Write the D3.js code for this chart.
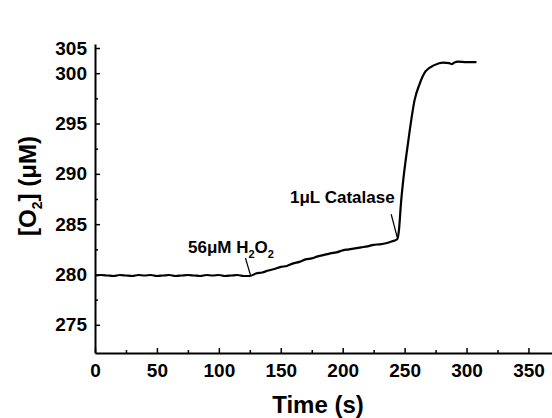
<!DOCTYPE html>
<html lang="en">
<head>
<meta charset="UTF-8">
<title>[O2] vs time</title>
<script src="https://cdn.jsdelivr.net/npm/d3@7/dist/d3.min.js"></script>
<style>
  * { margin: 0; padding: 0; box-sizing: border-box; }
  body { background: #fff; width: 552px; height: 418px; overflow: hidden; }
  svg { display: block; font-family: 'Liberation Sans', Arial, sans-serif; font-weight: bold; }
  .axis path, .axis line { stroke: #000; }
  .axis path { stroke-width: 2; }
  .axis line { stroke-width: 1.5; }
  .axis text { font-size: 19px; font-weight: bold; fill: #000; }
</style>
</head>
<body>
<div id="chart"></div>
<script>
// ─── Data ────────────────────────────────────────────────────────────────────

const times = [
  0, 5, 10, 15, 20, 25, 30, 35, 40, 45, 50, 55, 60, 65, 70, 75, 80, 85, 90, 95,
  100, 105, 110, 115, 120, 125, 130, 135, 140, 145, 150, 155, 160, 165, 170, 175,
  180, 185, 190, 195, 200, 205, 210, 215, 220, 225, 230, 235, 240, 244,
  245.5, 247, 249, 251, 254, 258, 262, 267, 274, 281, 286, 288, 290, 293, 300, 308
];
const o2 = [
  279.9, 279.95, 279.9, 279.85, 279.95, 279.9, 279.85, 279.95, 279.9, 279.95,
  279.85, 279.9, 279.95, 279.85, 279.9, 279.95, 279.9, 279.85, 279.95, 279.9,
  279.95, 279.85, 279.9, 279.95, 279.85, 279.85, 280.1, 280.2, 280.4, 280.55,
  280.75, 280.85, 281.1, 281.25, 281.5, 281.6, 281.8, 281.95, 282.1, 282.2,
  282.4, 282.5, 282.6, 282.7, 282.8, 282.95, 283.0, 283.1, 283.3, 283.5,
  284.5, 287.0, 289.5, 291.5, 294.2, 297.3, 298.9, 300.2, 300.8, 301.05,
  301.0, 300.9, 301.05, 301.15, 301.1, 301.1
];

const xTicks      = [0, 50, 100, 150, 200, 250, 300, 350];
const xMinorTicks = [25, 75, 125, 175, 225, 275, 325];
// the top tick of the original axis carries the label "305"
const yTicks      = [275, 280, 285, 290, 295, 300, 302.5];
const yTickLabels = ['275', '280', '285', '290', '295', '300', '305'];
const yMinorTicks = [277.5, 282.5, 287.5, 292.5, 297.5];

const notes = [
  { t: 125.5, v: 279.85, dx: -5, dy: -18 },  // 56μM H2O2
  { t: 244,   v: 283.6,  dx: -6, dy: -24 },  // 1μL Catalase
];

// ─── Layout ──────────────────────────────────────────────────────────────────

const W = 552, H = 418;
const margin = { top: 44, right: 0, bottom: 65, left: 95 };

const x = d3.scaleLinear().domain([0, 369]).range([margin.left, W - margin.right]);
const y = d3.scaleLinear().domain([272.2, 302.9]).range([H - margin.bottom, margin.top]);

const svg = d3.select('#chart').append('svg')
  .attr('width', W).attr('height', H);

// ─── Axes (ticks point inward) ───────────────────────────────────────────────

const xAxis = svg.append('g').attr('class', 'axis')
  .attr('transform', `translate(0,${y.range()[0]})`)
  .call(d3.axisBottom(x).tickValues(xTicks).tickSize(-5).tickPadding(11).tickSizeOuter(0));
xAxis.selectAll('.tick text').attr('dy', '0.71em');

svg.append('g').attr('class', 'axis')
  .attr('transform', `translate(0,${y.range()[0]})`)
  .call(d3.axisBottom(x).tickValues(xMinorTicks).tickSize(-3).tickFormat('').tickSizeOuter(0))
  .select('.domain').remove();

svg.append('g').attr('class', 'axis')
  .attr('transform', `translate(${x.range()[0]},0)`)
  .call(d3.axisLeft(y).tickValues(yTicks).tickSize(-5).tickPadding(8).tickSizeOuter(0)
    .tickFormat((d, i) => yTickLabels[i]));

svg.append('g').attr('class', 'axis')
  .attr('transform', `translate(${x.range()[0]},0)`)
  .call(d3.axisLeft(y).tickValues(yMinorTicks).tickSize(-3).tickFormat('').tickSizeOuter(0))
  .select('.domain').remove();

// ─── Axis titles ─────────────────────────────────────────────────────────────

svg.append('text')
  .attr('x', 318).attr('y', 413)
  .attr('text-anchor', 'middle')
  .attr('font-size', 24)
  .text('Time (s)');

const yTitle = svg.append('text')
  .attr('transform', 'translate(36,186) rotate(-90)')
  .attr('text-anchor', 'middle')
  .attr('font-size', 24);
yTitle.append('tspan').text('[O');
yTitle.append('tspan').attr('font-size', 14).attr('dy', 6).text('2');
yTitle.append('tspan').attr('dy', -6).text('] (μM)');

// ─── Trace ───────────────────────────────────────────────────────────────────

const line = d3.line()
  .x((d, i) => x(times[i]))
  .y(d => y(d))
  .curve(d3.curveMonotoneX);

svg.append('path')
  .datum(o2)
  .attr('fill', 'none')
  .attr('stroke', '#000')
  .attr('stroke-width', 2.2)
  .attr('stroke-linejoin', 'round')
  .attr('d', line);

// ─── Annotations ─────────────────────────────────────────────────────────────

notes.forEach(n => {
  const px = x(n.t), py = y(n.v);
  svg.append('line')
    .attr('x1', px + n.dx).attr('y1', py + n.dy)
    .attr('x2', px).attr('y2', py - 1)
    .attr('stroke', '#000').attr('stroke-width', 1.2);
});

const h2o2 = svg.append('text')
  .attr('x', 188).attr('y', 253)
  .attr('font-size', 17);
h2o2.append('tspan').text('56μM H');
h2o2.append('tspan').attr('font-size', 11).attr('dy', 5).text('2');
h2o2.append('tspan').attr('dy', -5).text('O');
h2o2.append('tspan').attr('font-size', 11).attr('dy', 5).text('2');

svg.append('text')
  .attr('x', 290).attr('y', 203)
  .attr('font-size', 17)
  .text('1μL Catalase');
</script>
</body>
</html>
